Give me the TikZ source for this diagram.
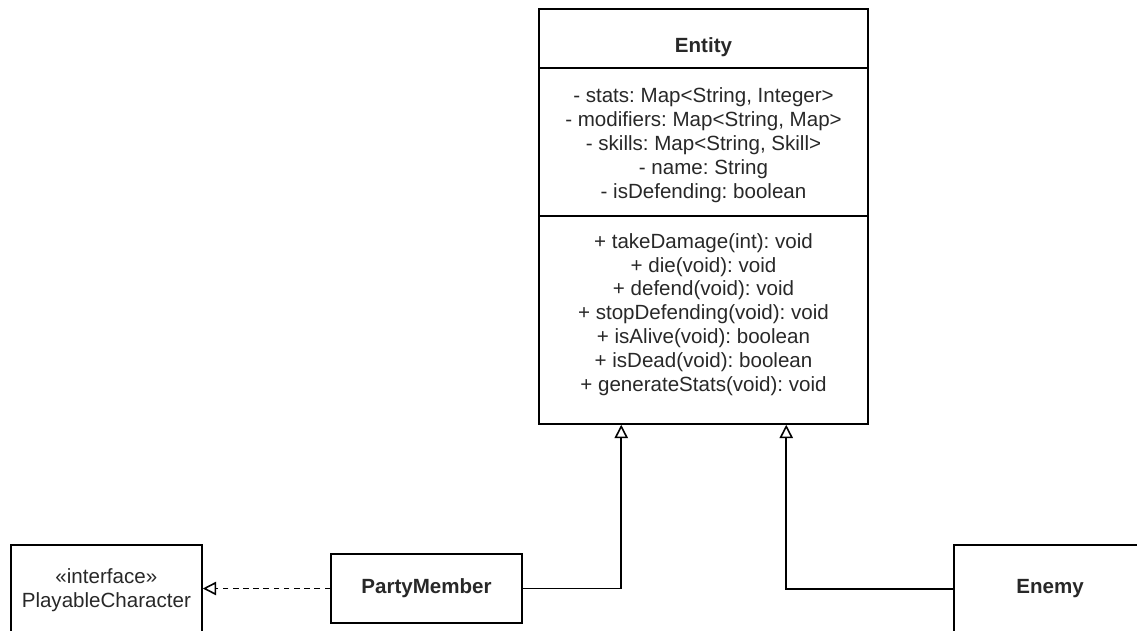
\documentclass[tikz,border=0pt]{standalone}
\usepackage{fontspec}
\setmainfont{Liberation Sans}
\usetikzlibrary{arrows.meta,calc}
\definecolor{ink}{RGB}{40,40,40}
\frenchspacing
\begin{document}
\begin{tikzpicture}[x=0.02cm,y=-0.02cm,
  box/.style={draw=black, line width=0.9pt, rectangle, inner sep=0pt},
  lbl/.style={text=ink, font=\fontsize{11.7}{13.6}\selectfont, align=center, inner sep=0pt},
  lblb/.style={lbl, font=\fontsize{11.7}{13.6}\selectfont\bfseries},
  gen/.style={draw=black, line width=0.9pt, -{Triangle[open, length=7.6pt, width=7.6pt]}},
  real/.style={gen, dash pattern=on 3.2pt off 2.6pt}]
\clip (0,0) rectangle (1137,630);
\fill[white] (0,0) rectangle (1137,630);

% class Entity with its three compartments
\node[box, minimum width=6.58cm, minimum height=8.3cm] (entity) at (703.5,216.5) {};
\draw[line width=0.9pt] (entity.west |- 0,68) -- (entity.east |- 0,68);
\draw[line width=0.9pt] (entity.west |- 0,216) -- (entity.east |- 0,216);
\node[lblb] (title) at (703.5,47.5) {Entity};
\node[lbl] (attrs) at (703.5,145) {- stats: Map<String, Integer>\\
- modifiers: Map<String, Map>\\
- skills: Map<String, Skill>\\
- name: String\\
- isDefending: boolean};
\node[lbl] (methods) at (703.5,314.5) {+ takeDamage(int): void\\
+ die(void): void\\
+ defend(void): void\\
+ stopDefending(void): void\\
+ isAlive(void): boolean\\
+ isDead(void): boolean\\
+ generateStats(void): void};

% interface and subclasses
\node[box, lbl, minimum width=3.826cm, minimum height=1.8cm, draw=black] (pc) at (106.35,590)
  {«interface»\\PlayableCharacter};
\node[box, lblb, minimum width=3.82cm, minimum height=1.38cm, draw=black] (pm) at (426.5,588.5)
  {PartyMember};
\node[box, lblb, minimum width=3.84cm, minimum height=1.76cm, draw=black] (enemy) at (1050,589)
  {Enemy};

% relations
\draw[gen] (pm.east) -| ($(entity.south west)+(83,0)$);
\draw[gen] (enemy.west) -| ($(entity.south west)+(248,0)$);
\draw[real] (pm.west) -- (pm.west -| pc.east);
\end{tikzpicture}
\end{document}
